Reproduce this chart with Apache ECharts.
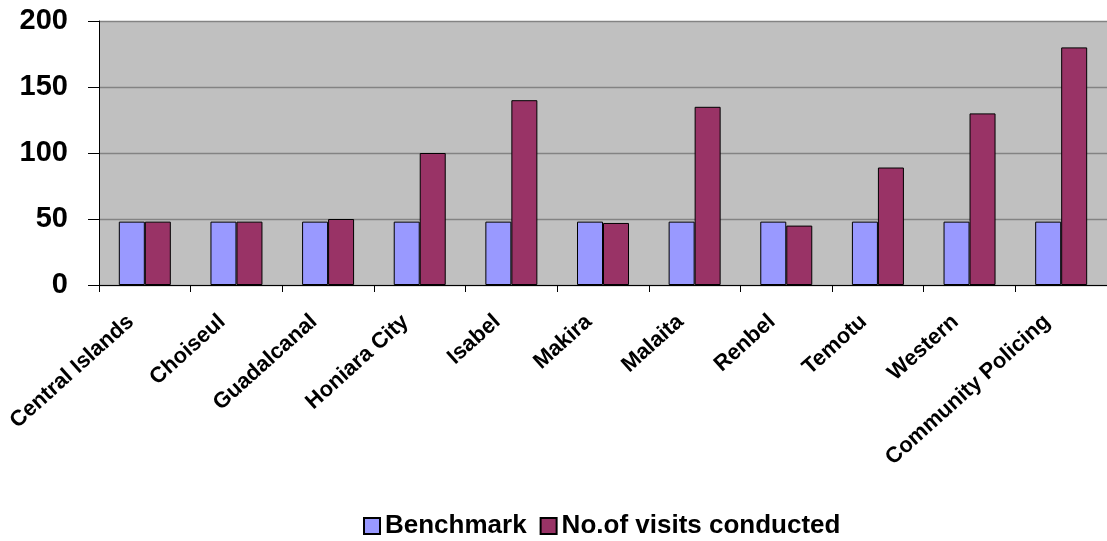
<!DOCTYPE html>
<html>
<head>
<meta charset="utf-8">
<script src="https://cdn.jsdelivr.net/npm/echarts@6/dist/echarts.min.js"></script>
<style>
  html, body { margin: 0; padding: 0; background: #ffffff; }
  #chart { width: 1107px; height: 541px; }
</style>
</head>
<body>
<div id="chart"></div>
<script>
// Provinces / programmes along the category axis
var categories = [
  'Central Islands', 'Choiseul', 'Guadalcanal', 'Honiara City', 'Isabel',
  'Makira', 'Malaita', 'Renbel', 'Temotu', 'Western', 'Community Policing'
];

// Target number of visits per area
var benchmark = [48, 48, 48, 48, 48, 48, 48, 48, 48, 48, 48];

// Visits actually carried out
var visitsConducted = [48, 48, 50, 100, 140, 47, 135, 45, 89, 130, 180];

// Value axis ticks
var yTicks = [0, 50, 100, 150, 200];

var seriesNames = ['Benchmark', 'No.of visits conducted'];

var FONT = '"Liberation Sans", Arial, sans-serif';

var chart = echarts.init(document.getElementById('chart'), null, { renderer: 'canvas' });

chart.setOption({
  animation: false,
  backgroundColor: '#ffffff',
  grid: {
    left: 99,
    top: 21,
    width: 1013,
    height: 264,
    show: true,
    backgroundColor: '#c0c0c0',
    borderWidth: 0,
    containLabel: false
  },
  legend: {
    data: seriesNames,
    left: 358,
    top: 508,
    itemWidth: 16,
    itemHeight: 16,
    itemGap: 13,
    icon: 'rect',
    textStyle: {
      fontFamily: FONT,
      fontSize: 26,
      fontWeight: 'bold',
      color: '#000000'
    }
  },
  xAxis: {
    type: 'category',
    data: categories,
    boundaryGap: true,
    axisLine: { show: true, lineStyle: { color: '#000000', width: 1 } },
    axisTick: { show: true, length: 7, inside: false, lineStyle: { color: '#000000' } },
    splitLine: { show: false },
    axisLabel: {
      interval: 0,
      rotate: 42,
      margin: 21,
      padding: [0, 19, 0, 0],
      fontFamily: FONT,
      fontSize: 22,
      fontWeight: 'bold',
      color: '#000000'
    }
  },
  yAxis: {
    type: 'value',
    min: yTicks[0],
    max: yTicks[yTicks.length - 1],
    interval: yTicks[1] - yTicks[0],
    axisLine: { show: true, lineStyle: { color: '#000000', width: 1 } },
    axisTick: { show: true, length: 11, inside: false, lineStyle: { color: '#000000' } },
    splitLine: { show: true, lineStyle: { color: '#838383', width: 1.3 } },
    axisLabel: {
      margin: 31,
      fontFamily: FONT,
      fontSize: 29,
      fontWeight: 'bold',
      color: '#000000'
    }
  },
  series: [
    {
      name: seriesNames[0],
      type: 'bar',
      data: benchmark,
      barWidth: 26,
      barGap: '0%',
      itemStyle: { color: '#9999ff', borderColor: '#000000', borderWidth: 1 }
    },
    {
      name: seriesNames[1],
      type: 'bar',
      data: visitsConducted,
      barWidth: 26,
      barGap: '0%',
      itemStyle: { color: '#993366', borderColor: '#000000', borderWidth: 1 }
    }
  ]
});
</script>
</body>
</html>
